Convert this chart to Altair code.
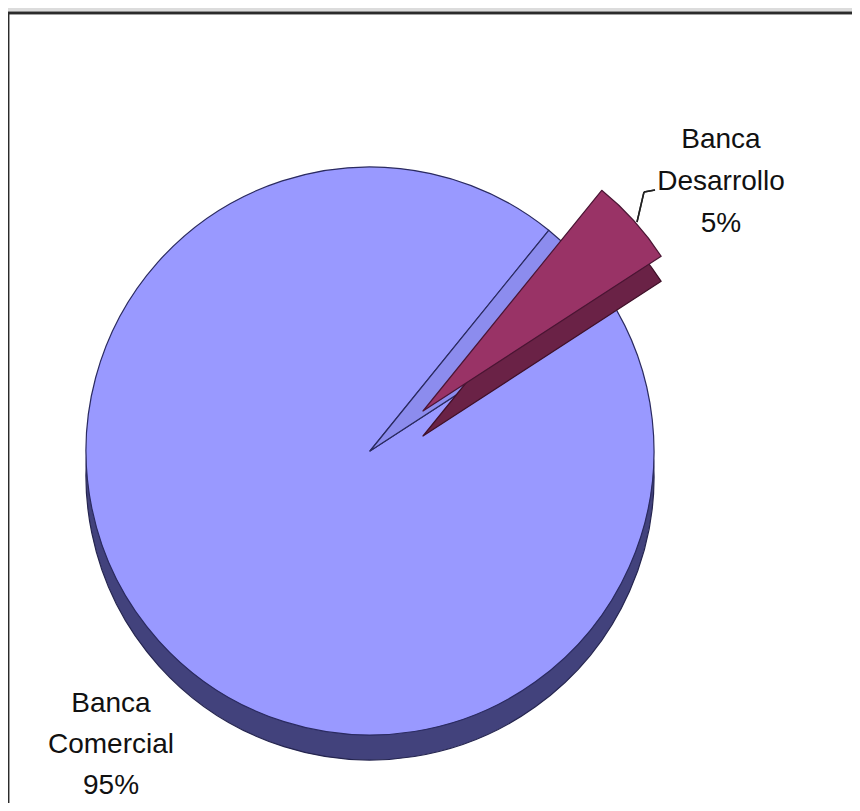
import math
import altair as alt
import pandas as pd

# ---- data ----
categories = ["Banca Desarrollo", "Banca Comercial"]
values = [5, 95]
order = [0, 1]
top_colors = ["#993366", "#9999FF"]
side_colors = ["#6A2246", "#42427C"]
wall_color = "#8C8CEE"     # cut wall of the big slice, seen behind the exploded one

df = pd.DataFrame({"cat": categories, "value": values, "ord": order})

# ---- layout ----
W, H = 844, 790
CX, CY = 362, 438          # pie centre inside the view
R = 284                    # pie radius
DEPTH = 25                 # 3-D side thickness
EX, EY = 53, -40           # explode offset of the small slice
A0 = math.radians(39)      # start angle of the first slice
FONT = "Liberation Sans, Arial, sans-serif"

theta_scale = alt.Scale(domain=[0, 100], range=[A0, A0 + 2 * math.pi])

base = (
    alt.Chart(df)
    .transform_window(cum="sum(value)", sort=[alt.SortField("ord")], frame=[None, 0])
    .transform_calculate(
        start="datum.cum - datum.value",
        label="[split(datum.cat, ' ')[0], split(datum.cat, ' ')[1], datum.value + '%']",
    )
)


def slice_layer(cat, fill, dx, dy, stroke):
    return (
        base.transform_filter(alt.datum.cat == cat)
        .mark_arc(radius=R, stroke=stroke, strokeWidth=1.2, strokeJoin="round")
        .encode(
            theta=alt.Theta("start:Q", scale=theta_scale),
            theta2="cum:Q",
            fill=alt.value(fill),
            x=alt.value(CX + dx),
            y=alt.value(CY + dy),
        )
    )


com_side = slice_layer("Banca Comercial", side_colors[1], 0, DEPTH, "#25254f")
com_top = slice_layer("Banca Comercial", top_colors[1], 0, 0, "#2a2a60")
gap_wall = slice_layer("Banca Desarrollo", wall_color, 0, 0, "#2a2a60")
des_side = slice_layer("Banca Desarrollo", side_colors[0], EX, EY + DEPTH, "#3f1028")
des_top = slice_layer("Banca Desarrollo", top_colors[0], EX, EY, "#4a1533")

label_des = (
    base.transform_filter(alt.datum.cat == "Banca Desarrollo")
    .mark_text(font=FONT, fontSize=28, lineHeight=42, align="center", baseline="alphabetic", color="#111111")
    .encode(text="label:N", x=alt.value(713), y=alt.value(135))
)
label_com = (
    base.transform_filter(alt.datum.cat == "Banca Comercial")
    .mark_text(font=FONT, fontSize=28, lineHeight=41, align="center", baseline="alphabetic", color="#111111")
    .encode(text="label:N", x=alt.value(103), y=alt.value(699))
)

# leader line for the small slice
lead1 = alt.Chart(df).mark_rule(color="#222222", strokeWidth=1.5).encode(
    x=alt.value(629), x2=alt.value(636), y=alt.value(209), y2=alt.value(179)
)
lead2 = alt.Chart(df).mark_rule(color="#222222", strokeWidth=1.5).encode(
    x=alt.value(636), x2=alt.value(647), y=alt.value(179), y2=alt.value(177)
)

# frame (top and left dark border lines)
frame_top = alt.Chart(df).mark_rule(color="#2b2b2b", strokeWidth=2.5).encode(
    x=alt.value(0), x2=alt.value(W), y=alt.value(0)
)
frame_left = alt.Chart(df).mark_rule(color="#2b2b2b", strokeWidth=2.5).encode(
    x=alt.value(0), y=alt.value(0), y2=alt.value(H)
)

chart = (
    alt.layer(
        com_side, com_top, gap_wall, des_side, des_top,
        label_des, label_com, lead1, lead2, frame_top, frame_left,
    )
    .properties(
        width=W,
        height=H,
        background="#dcdcdc",
        padding={"left": 0, "top": 5, "right": 0, "bottom": 0},
        autosize=alt.AutoSizeParams(type="none"),
    )
    .configure_view(fill="white", stroke=None)
)

chart.save("out.html", embed_options={"renderer": "svg", "actions": False})
